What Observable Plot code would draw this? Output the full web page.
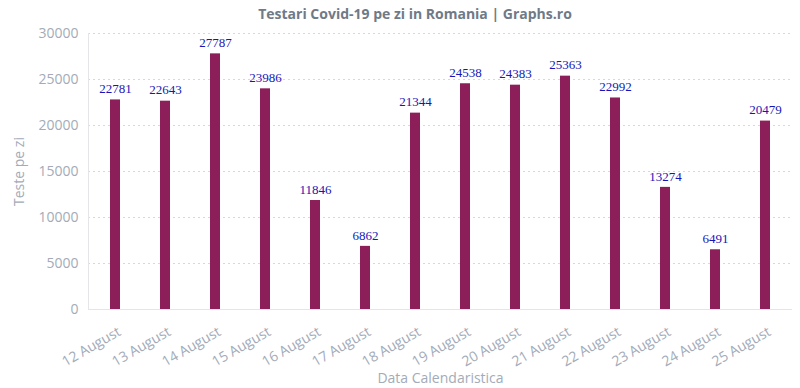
<!DOCTYPE html>
<html>
<head>
<meta charset="utf-8">
<script src="https://cdn.jsdelivr.net/npm/d3@7"></script>
<script src="https://cdn.jsdelivr.net/npm/@observablehq/plot@0.6"></script>
<style>
  html, body { margin: 0; padding: 0; background: #fff; }
  #title { height: 20px; line-height: 20px; padding-top: 4px; font-family: "Open Sans", sans-serif; font-weight: bold; font-size: 14px; color: #6f7a87; text-align: center; width: 830px; }
</style>
</head>
<body>
<div id="title">Testari Covid-19 pe zi in Romania | Graphs.ro</div>
<div id="chart"></div>
<script>
const dates = ["12 August","13 August","14 August","15 August","16 August","17 August","18 August","19 August","20 August","21 August","22 August","23 August","24 August","25 August"];
const tests = [22781,22643,27787,23986,11846,6862,21344,24538,24383,25363,22992,13274,6491,20479];
const yTicks = [0,5000,10000,15000,20000,25000,30000];

const data = dates.map((d, i) => ({date: d, value: tests[i]}));

const chart = Plot.plot({
  width: 800,
  height: 364,
  marginTop: 9,
  marginLeft: 88,
  marginRight: 8,
  marginBottom: 79,
  style: {fontFamily: "'Open Sans', sans-serif", fontSize: "14px", color: "#a3abb8", background: "#fff"},
  x: {domain: dates, paddingInner: 0.8, paddingOuter: 0.4, label: null},
  y: {domain: [0, 30000], label: null},
  marks: [
    Plot.gridY(yTicks.filter(d => d > 0), {stroke: "#d5d8dc", strokeOpacity: 1, strokeDasharray: "2,3"}),
    Plot.ruleY([0], {stroke: "#e3e5e8"}),
    Plot.barY(data, {x: "date", y: "value", fill: "#8c1f59"}),
    Plot.text(data, {x: "date", y: "value", text: d => String(d.value), dy: -11, fill: "#1616b8", fontFamily: "'Liberation Serif', 'DejaVu Serif', serif", fontSize: 13}),
    Plot.axisY({ticks: yTicks, tickSize: 0, tickPadding: 10, tickFormat: d => String(d), fill: "#a3abb8", fontSize: 14,
      label: "Teste pe zi", labelAnchor: "center", labelArrow: "none", labelOffset: 74}),
    Plot.axisX({tickSize: 0, tickPadding: 21, dx: 4, tickRotate: -30, fill: "#a3abb8", fontSize: 14,
      label: "Data Calendaristica", labelAnchor: "center", labelArrow: "none", labelOffset: 73})
  ]
});
document.getElementById("chart").appendChild(chart);
const svg = d3.select(chart);
svg.append("line").attr("x1", 88.5).attr("x2", 88.5).attr("y1", 9).attr("y2", 285).attr("stroke", "#e3e5e8");
</script>
</body>
</html>
